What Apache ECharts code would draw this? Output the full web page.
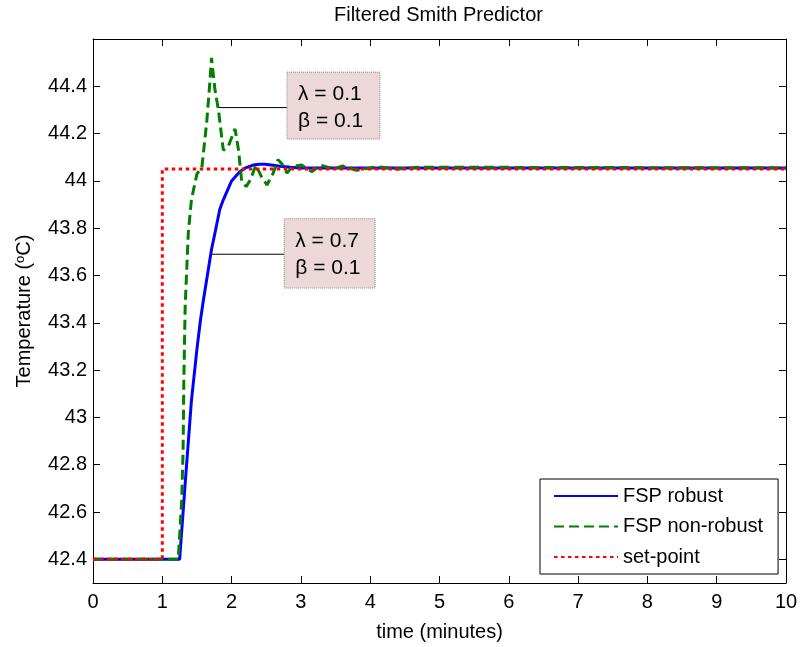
<!DOCTYPE html>
<html>
<head>
<meta charset="utf-8">
<script src="https://cdn.jsdelivr.net/npm/echarts@6/dist/echarts.min.js"></script>
<style>
  html, body { margin: 0; padding: 0; background: #fff; }
  #chart { width: 803px; height: 647px; }
</style>
</head>
<body>
<div id="chart"></div>
<script>
// values
const robustTime = [0, 1.25, 1.33, 1.42, 1.50, 1.55, 1.59, 1.65, 1.71, 1.76, 1.83, 1.88, 1.94, 2.00, 2.06, 2.12, 2.20, 2.31, 2.40, 2.48, 2.60, 2.70, 2.85, 3.0, 10];
const robustTemp = [42.4, 42.4, 42.72, 43.07, 43.29, 43.41, 43.49, 43.60, 43.71, 43.78, 43.88, 43.92, 43.96, 44.0, 44.02, 44.04, 44.055, 44.067, 44.07, 44.07, 44.066, 44.062, 44.058, 44.055, 44.055];

const nonRobustTime = [0, 1.23, 1.28, 1.30, 1.31, 1.33, 1.375, 1.42, 1.50, 1.57, 1.59, 1.64, 1.69, 1.71, 1.76, 1.81, 1.88, 1.95, 2.05, 2.10, 2.145, 2.21, 2.27, 2.35, 2.43, 2.51, 2.60, 2.67, 2.73, 2.80, 2.87, 3.01, 3.16, 3.28, 3.47, 3.60, 3.80, 4.10, 4.40, 4.70, 10];
const nonRobustTemp = [42.4, 42.4, 42.65, 42.86, 43.14, 43.47, 43.78, 43.92, 44.03, 44.055, 44.06, 44.245, 44.43, 44.52, 44.385, 44.30, 44.13, 44.145, 44.22, 44.13, 44.0, 43.976, 44.004, 44.067, 44.018, 43.983, 44.033, 44.09, 44.07, 44.033, 44.06, 44.067, 44.039, 44.067, 44.05, 44.063, 44.045, 44.06, 44.05, 44.058, 44.055];

const setPointTime = [0, 1, 1, 10];
const setPointTemp = [42.4, 42.4, 44.05, 44.05];

const seriesNames = ["FSP robust", "FSP non-robust", "set-point"];
const yTicks = [42.4, 42.6, 42.8, 43, 43.2, 43.4, 43.6, 43.8, 44, 44.2, 44.4];

// text boxes: anchor point on the curve and box corners, in data units
const notes = [
  { text: "λ = 0.1\nβ = 0.1", from: [1.81, 44.31], box: [2.80, 44.46, 4.14, 44.177] },
  { text: "λ = 0.7\nβ = 0.1", from: [1.70, 43.69], box: [2.76, 43.84, 4.07, 43.547] },
];

const FONT = "'Liberation Sans', Arial, Helvetica, sans-serif";
const FS = 20;

const pairs = (xs, ys) => xs.map((x, i) => [x, ys[i]]);

const xBase = {
  type: "value", min: 0, max: 10, interval: 1,
  axisLine: { onZero: false, lineStyle: { color: "#000", width: 1 } },
  axisTick: { inside: true, length: 7, lineStyle: { color: "#000" } },
  splitLine: { show: false },
};
const yBase = {
  type: "value", min: 42.3, max: 44.6,
  axisLine: { show: true, onZero: false, lineStyle: { color: "#000", width: 1 } },
  axisTick: { show: true, inside: true, length: 7, customValues: yTicks, lineStyle: { color: "#000" } },
  splitLine: { show: false },
};

const chart = echarts.init(document.getElementById("chart"));

chart.setOption({
  animation: false,
  backgroundColor: "#fff",
  textStyle: { fontFamily: FONT },
  title: {
    text: "Filtered Smith Predictor",
    left: 334,
    top: 5,
    padding: 0,
    textStyle: { fontFamily: FONT, fontSize: FS, fontWeight: "normal", color: "#000" },
  },
  grid: { left: 93, right: 17, top: 39, bottom: 64, containLabel: false, outerBoundsMode: "none" },
  xAxis: [
    {
      ...xBase, position: "bottom",
      name: "time (minutes)", nameLocation: "middle", nameGap: 39,
      nameTextStyle: { fontFamily: FONT, fontSize: FS, color: "#000" },
      axisLabel: { margin: 9, fontFamily: FONT, fontSize: FS, color: "#000" },
    },
    { ...xBase, position: "top", axisLabel: { show: false } },
  ],
  yAxis: [
    {
      ...yBase, position: "left",
      name: "Temperature ({sup|o}C)", nameLocation: "middle", nameGap: 59,
      nameTextStyle: {
        fontFamily: FONT, fontSize: FS, color: "#000",
        rich: { sup: { fontFamily: FONT, fontSize: 13, color: "#000", verticalAlign: "top", padding: [0, 0, 6, 0] } },
      },
      axisLabel: { margin: 6, customValues: yTicks, fontFamily: FONT, fontSize: FS, color: "#000" },
    },
    { ...yBase, position: "right", axisLabel: { show: false } },
  ],
  legend: {
    data: seriesNames,
    orient: "vertical",
    left: 540,
    top: 479,
    padding: [7, 15, 7, 13],
    itemWidth: 64,
    itemHeight: 20,
    itemGap: 10.5,
    backgroundColor: "#fff",
    borderColor: "#000",
    borderWidth: 1,
    borderRadius: 0,
    itemStyle: { opacity: 0 },
    textStyle: { fontFamily: FONT, fontSize: FS, color: "#000", lineHeight: 20 },
  },
  series: [
    {
      name: seriesNames[0], type: "line", data: pairs(robustTime, robustTemp),
      symbol: "none", lineStyle: { color: "#0000ff", width: 3 }, itemStyle: { color: "#0000ff" },
    },
    {
      name: seriesNames[1], type: "line", data: pairs(nonRobustTime, nonRobustTemp),
      symbol: "none", lineStyle: { color: "#008000", width: 3, type: [10, 5] }, itemStyle: { color: "#008000" },
    },
    {
      name: seriesNames[2], type: "line", data: pairs(setPointTime, setPointTemp),
      symbol: "none", lineStyle: { color: "#ff0000", width: 3, type: [3.5, 3.5] }, itemStyle: { color: "#ff0000" },
    },
  ],
});

// annotation boxes, placed through the axes' own scales
function drawNotes() {
  const toPx = (p) => chart.convertToPixel({ xAxisIndex: 0, yAxisIndex: 0 }, p);
  const elements = [];
  notes.forEach((n) => {
    const a = toPx(n.from);
    const tl = toPx([n.box[0], n.box[1]]);
    const br = toPx([n.box[2], n.box[3]]);
    elements.push({
      type: "line", z: 100, silent: true,
      shape: { x1: a[0], y1: a[1], x2: tl[0], y2: a[1] },
      style: { stroke: "#000", lineWidth: 1 },
    });
    elements.push({
      type: "rect", z: 100, silent: true,
      shape: { x: tl[0], y: tl[1], width: br[0] - tl[0], height: br[1] - tl[1] },
      style: { fill: "#ecd8d8", stroke: "#8a8a8a", lineWidth: 1, lineDash: [1, 1] },
    });
    elements.push({
      type: "text", z: 101, silent: true,
      x: tl[0] + 11, y: tl[1] + 9,
      style: { text: n.text, fontFamily: FONT, fontSize: 21, lineHeight: 27, fill: "#000", verticalAlign: "top", align: "left" },
    });
  });
  chart.setOption({ graphic: elements });
}
drawNotes();
</script>
</body>
</html>
